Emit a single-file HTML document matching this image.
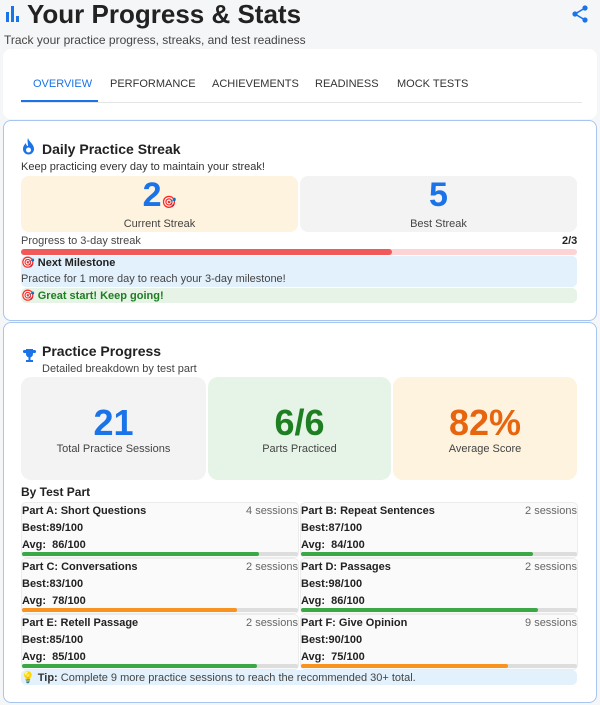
<!DOCTYPE html>
<html><head><meta charset="utf-8">
<style>
*{box-sizing:border-box;margin:0;padding:0}
body{width:600px;height:705px;overflow:hidden;background:#f5f6f8;font-family:"Liberation Sans",sans-serif;color:#222;position:relative}
.a{position:absolute;white-space:nowrap}
.card{position:absolute;background:#fff;border-radius:8px}
.box{position:absolute;border-radius:8px}
.big{position:absolute;left:0;right:0;text-align:center;font-weight:bold}
.lbl{position:absolute;left:0;right:0;text-align:center;font-size:11px;color:#444}
.cell{position:absolute;background:#fafafa;border:1px solid #ececec;border-radius:5px}
.cell .t{position:absolute;left:0;top:2px;font-size:11px;font-weight:bold;color:#222}
.cell .s{position:absolute;right:0;top:2px;font-size:11px;color:#666}
.cell .b{position:absolute;left:0;top:19px;font-size:11px;font-weight:bold;color:#222}
.cell .v{position:absolute;left:0;top:36px;font-size:11px;font-weight:bold;color:#222}
.cell .tr{position:absolute;left:0;right:0;top:49px;height:4px;background:#ddd;border-radius:2px}
.cell .f{position:absolute;left:0;top:0;height:4px;border-radius:2px}
</style></head><body>
<div class="a" style="left:6px;top:6px;width:16px;height:16px">
<div style="position:absolute;left:0;top:6px;width:3px;height:10px;background:#1a73e8"></div>
<div style="position:absolute;left:5px;top:0;width:3px;height:16px;background:#1a73e8"></div>
<div style="position:absolute;left:10px;top:10px;width:3px;height:6px;background:#1a73e8"></div>
</div>
<div class="a" style="left:27px;top:-1px;font-size:26px;font-weight:bold;color:#222">Your Progress &amp; Stats</div>
<svg class="a" style="left:571px;top:5px" width="18" height="18" viewBox="0 0 18 18"><circle cx="14" cy="3" r="2.6" fill="#1a73e8"/><circle cx="4" cy="9" r="2.6" fill="#1a73e8"/><circle cx="14" cy="15" r="2.6" fill="#1a73e8"/><path d="M14 3L4 9L14 15" stroke="#1a73e8" stroke-width="1.6" fill="none"/></svg>
<div class="a" style="left:4px;top:33px;font-size:12px;color:#444">Track your practice progress, streaks, and test readiness</div>

<div class="card" style="left:3px;top:49px;width:594px;height:70px">
<div class="a" style="left:18px;top:53px;width:561px;height:1px;background:#e5e5e5"></div>
<div class="a" style="left:30px;top:29px;font-size:11px;color:#1a73e8">OVERVIEW</div>
<div class="a" style="left:18px;top:51px;width:77px;height:2px;background:#1a73e8"></div>
<div class="a" style="left:107px;top:29px;font-size:11px;color:#333">PERFORMANCE</div>
<div class="a" style="left:209px;top:29px;font-size:11px;color:#333">ACHIEVEMENTS</div>
<div class="a" style="left:312px;top:29px;font-size:11px;color:#333">READINESS</div>
<div class="a" style="left:394px;top:29px;font-size:11px;color:#333">MOCK TESTS</div>
</div>

<div class="card" style="left:3px;top:120px;width:594px;height:201px;border:1px solid #a8c4f0"></div>
<svg class="a" style="left:22px;top:138px" width="13" height="17" viewBox="0 0 13 17"><path d="M6 0C7 4 12 6 12 11A5.5 5.5 0 0 1 1 11C1 8 3 6 4 5C4 7 5 8 6 8C6 5 5 3 6 0Z" fill="#1a73e8"/><circle cx="6.5" cy="12" r="2.5" fill="#fff"/></svg>
<div class="a" style="left:42px;top:141px;font-size:14px;font-weight:bold;color:#222">Daily Practice Streak</div>
<div class="a" style="left:21px;top:161px;font-size:11px;color:#333">Keep practicing every day to maintain your streak!</div>
<div class="box" style="left:21px;top:176px;width:277px;height:56px;background:#fdf3de">
<div class="big" style="top:0;font-size:34px;color:#1a73e8">2<span style="font-size:12px">🎯</span></div>
<div class="lbl" style="top:42px">Current Streak</div></div>
<div class="box" style="left:300px;top:176px;width:277px;height:56px;background:#f3f3f3">
<div class="big" style="top:0;font-size:34px;color:#1a73e8">5</div>
<div class="lbl" style="top:42px">Best Streak</div></div>
<div class="a" style="left:21px;top:235px;font-size:11px;color:#444">Progress to 3-day streak</div>
<div class="a" style="left:562px;top:235px;font-size:11px;font-weight:bold">2/3</div>
<div class="a" style="left:21px;top:249px;width:556px;height:6px;background:#fdd3d3;border-radius:3px"><div style="width:66.7%;height:6px;background:#f25a5a;border-radius:3px"></div></div>
<div class="box" style="left:21px;top:256px;width:556px;height:31px;background:#e2f1fc;border-radius:5px">
<div class="a" style="left:0;top:0;font-size:11px;font-weight:bold">🎯 Next Milestone</div>
<div class="a" style="left:0;top:17px;font-size:11px;color:#444">Practice for 1 more day to reach your 3-day milestone!</div></div>
<div class="box" style="left:21px;top:288px;width:556px;height:15px;background:#e6f3e6;border-radius:5px">
<div class="a" style="left:0;top:1px;font-size:11px;font-weight:bold;color:#1e7e22">🎯 Great start! Keep going!</div></div>

<div class="card" style="left:3px;top:322px;width:594px;height:381px;border:1px solid #a8c4f0"></div>
<svg class="a" style="left:23px;top:348px" width="13" height="15" viewBox="0 0 13 15"><path d="M3 1H10V6A3.5 3.5 0 0 1 3 6Z M1 2H3V5H2A1.5 1.5 0 0 1 1 2Z M12 2H10V5H11A1.5 1.5 0 0 0 12 2Z M5.5 9H7.5V12H5.5Z M3 12H10V14H3Z" fill="#1a73e8"/></svg>
<div class="a" style="left:42px;top:343px;font-size:14px;font-weight:bold;color:#222">Practice Progress</div>
<div class="a" style="left:42px;top:363px;font-size:11px;color:#444">Detailed breakdown by test part</div>
<div class="box" style="left:21px;top:377px;width:185px;height:103px;background:#f3f3f3;border-radius:10px">
<div class="big" style="top:25px;font-size:36px;color:#1a73e8">21</div><div class="lbl" style="top:66px">Total Practice Sessions</div></div>
<div class="box" style="left:208px;top:377px;width:183px;height:103px;background:#e6f4e7;border-radius:10px">
<div class="big" style="top:25px;font-size:36px;color:#1e7e22">6/6</div><div class="lbl" style="top:66px">Parts Practiced</div></div>
<div class="box" style="left:393px;top:377px;width:184px;height:103px;background:#fdf3de;border-radius:10px">
<div class="big" style="top:25px;font-size:36px;color:#e8650f">82%</div><div class="lbl" style="top:66px">Average Score</div></div>
<div class="a" style="left:21px;top:485px;font-size:12px;font-weight:bold;color:#222">By Test Part</div>
<div id="grid"></div>
<div class="box" style="left:21px;top:670px;width:556px;height:15px;background:#e2f1fc;border-radius:5px">
<div class="a" style="left:0;top:1px;font-size:11px;color:#444">💡 <b style="color:#333">Tip:</b> Complete 9 more practice sessions to reach the recommended 30+ total.</div></div>

<script>
const partNames=["Part A: Short Questions","Part B: Repeat Sentences","Part C: Conversations","Part D: Passages","Part E: Retell Passage","Part F: Give Opinion"];
const sessions=[4,2,2,2,2,9];
const bestScores=[89,87,83,98,85,90];
const avgScores=[86,84,78,86,85,75];
const grid=document.getElementById('grid');
partNames.forEach((n,i)=>{
  const c=document.createElement('div');
  c.className='cell';
  
  
  const col=i%2,row=Math.floor(i/2);
  c.style.left=(21+col*279)+'px';c.style.top=(502+row*56)+'px';
  c.style.width='278px';c.style.height='56px';
  const color=avgScores[i]>=80?'#3aa845':'#f7931e';
  c.innerHTML='<div class="t">'+n+'</div><div class="s">'+sessions[i]+' sessions</div><div class="b">Best:'+bestScores[i]+'/100</div><div class="v">Avg:&nbsp; '+avgScores[i]+'/100</div><div class="tr"><div class="f" style="width:'+avgScores[i]+'%;background:'+color+'"></div></div>';
  grid.appendChild(c);
});
</script>
</body></html>
